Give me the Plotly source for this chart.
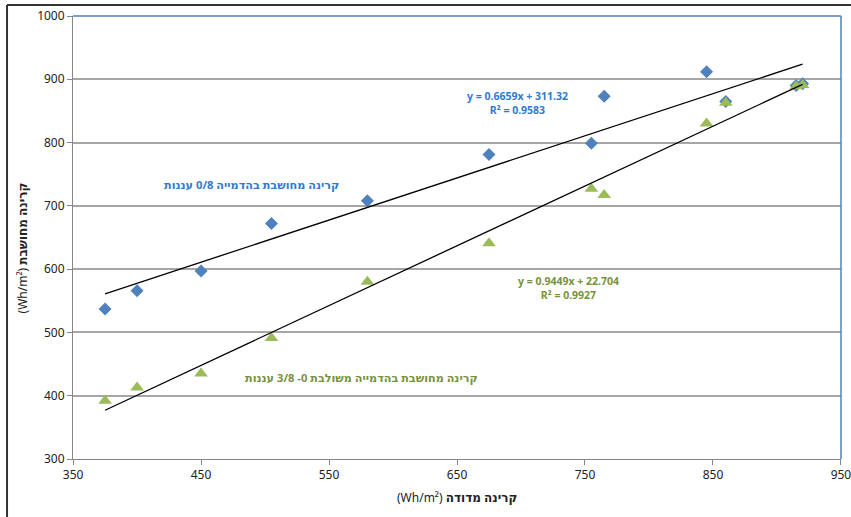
import numpy as np
import plotly.graph_objects as go

# Measured irradiance (x) and simulated irradiance (y), Wh/m²
measured = [375, 400, 450, 505, 580, 675, 755, 765, 845, 860, 915, 920]
sim_clear = [537, 566, 597, 672, 708, 781, 799, 873, 912, 865, 890, 893]
sim_mixed = [392, 413, 435, 491, 580, 641, 727, 717, 830, 863, 889, 891]

# Linear trend-line coefficients (slope, intercept, R²)
fit_clear = (0.6659, 311.32, 0.9583)
fit_mixed = (0.9449, 22.704, 0.9927)

x_ticks = [350, 450, 550, 650, 750, 850, 950]
y_ticks = [300, 400, 500, 600, 700, 800, 900, 1000]

BLUE = "#4f81bd"
GREEN = "#9bbb59"
BLUE_TXT = "#2e7bcf"
GREEN_TXT = "#76923c"
FONT = "Noto Sans, DejaVu Sans, sans-serif"

fig = go.Figure()

fig.add_trace(go.Scatter(
    x=measured, y=sim_clear, mode="markers",
    marker=dict(symbol="diamond", size=10, color=BLUE),
    showlegend=False,
))
fig.add_trace(go.Scatter(
    x=measured, y=sim_mixed, mode="markers",
    marker=dict(symbol="triangle-up", size=12, color=GREEN),
    showlegend=False,
))

xfit = np.array([min(measured), max(measured)], dtype=float)
for slope, icpt, _ in (fit_clear, fit_mixed):
    fig.add_trace(go.Scatter(
        x=xfit, y=slope * xfit + icpt, mode="lines",
        line=dict(color="black", width=1.3),
        showlegend=False, hoverinfo="skip",
    ))


def eq_label(x, y, fit, color):
    s, b, r2 = fit
    return dict(
        x=x, y=y, xref="x", yref="y", showarrow=False, align="center",
        text=f"<b>y = {s:.4f}x + {b:g}<br>R² = {r2:.4f}</b>",
        font=dict(family=FONT, size=10.5, color=color),
    )


annotations = [
    eq_label(697, 862, fit_clear, BLUE_TXT),
    eq_label(737, 570, fit_mixed, GREEN_TXT),
    dict(x=419.5, y=733, xref="x", yref="y", showarrow=False, xanchor="left",
         text="<b>קרינה מחושבת בהדמייה 0/8 עננות</b>",
         font=dict(family=FONT, size=11.2, color=BLUE_TXT)),
    dict(x=483, y=429, xref="x", yref="y", showarrow=False, xanchor="left",
         text="<b>קרינה מחושבת בהדמייה משולבת 0- 3/8 עננות</b>",
         font=dict(family=FONT, size=11.2, color=GREEN_TXT)),
    # axis titles
    dict(x=0.5, y=-0.086, xref="paper", yref="paper", showarrow=False,
         xanchor="center", yanchor="middle",
         text="(Wh/m²) <b>קרינה מדודה</b>",
         font=dict(family=FONT, size=12, color="#222222")),
    dict(x=-0.066, y=0.476, xref="paper", yref="paper", showarrow=False,
         xanchor="center", yanchor="middle", textangle=-90,
         text="(Wh/m²) <b>קרינה מחושבת</b>",
         font=dict(family=FONT, size=12, color="#222222")),
]

shapes = [
    # top and right plot-area border
    dict(type="line", xref="paper", yref="paper", x0=0, x1=1, y0=1, y1=1,
         line=dict(color=BLUE, width=1.5)),
    dict(type="line", xref="paper", yref="paper", x0=1, x1=1, y0=0, y1=1,
         line=dict(color=BLUE, width=1.5)),
    # outer chart frame (left and top edges)
    dict(type="line", xref="paper", yref="paper", x0=-0.0859, x1=1.02,
         y0=1.0248, y1=1.0248, line=dict(color="#333333", width=2)),
    dict(type="line", xref="paper", yref="paper", x0=-0.0859, x1=-0.0859,
         y0=-0.14, y1=1.0248, line=dict(color="#333333", width=2)),
]

fig.update_layout(
    width=851, height=517,
    margin=dict(l=73, r=10, t=16, b=58),
    paper_bgcolor="white", plot_bgcolor="white",
    font=dict(family=FONT, size=12, color="#222222"),
    annotations=annotations, shapes=shapes,
    xaxis=dict(
        range=[349.95, 950.05], tickvals=x_ticks, showgrid=False, zeroline=False,
        showline=True, linecolor="#868686", linewidth=1,
        ticks="outside", ticklen=5, tickcolor="#868686",
        ticklabeloverflow="allow", automargin=False,
        tickfont=dict(family=FONT, size=12, color="#222222"),
    ),
    yaxis=dict(
        range=[300, 1000], tickvals=y_ticks, showgrid=True,
        gridcolor="#a6a6a6", gridwidth=1.5, zeroline=False,
        showline=True, linecolor="#868686", linewidth=1,
        ticks="outside", ticklen=5, tickcolor="#868686",
        automargin=False,
        tickfont=dict(family=FONT, size=12, color="#222222"),
    ),
)

fig.write_html("out.html")
